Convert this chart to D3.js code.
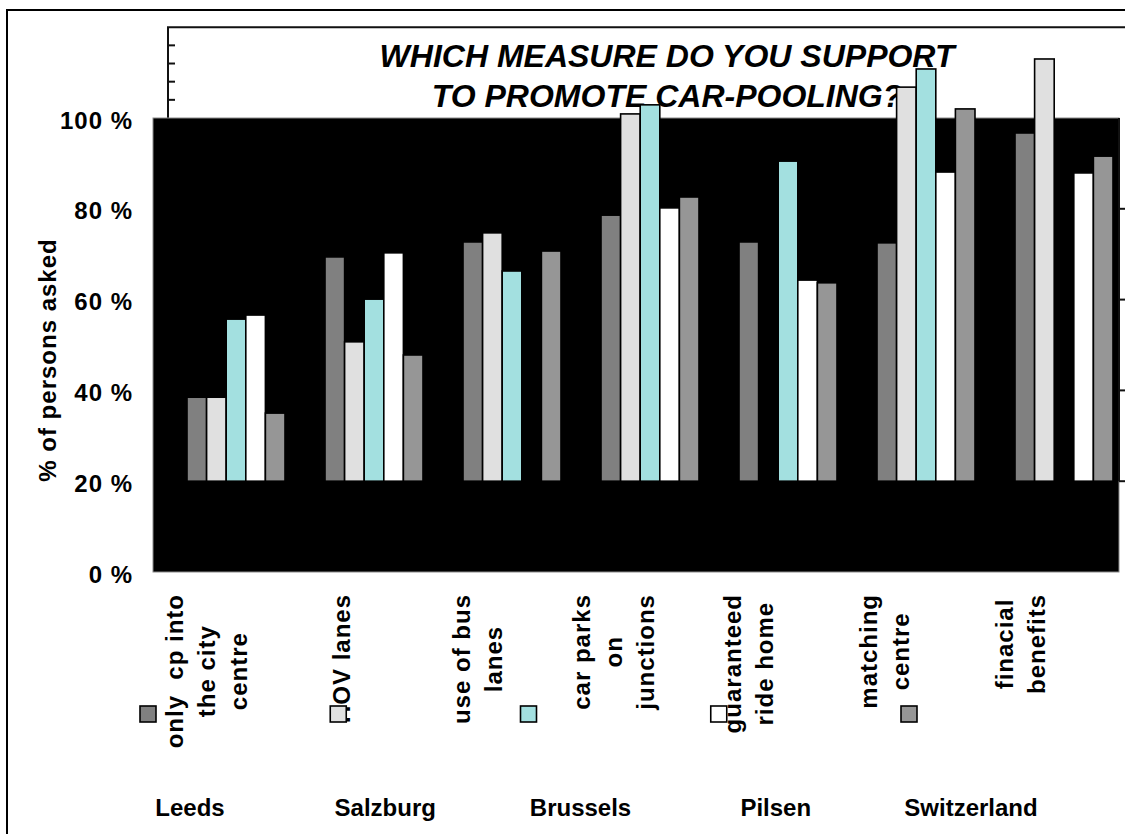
<!DOCTYPE html>
<html>
<head>
<meta charset="utf-8">
<script src="https://cdn.jsdelivr.net/npm/d3@7"></script>
<style>
  html, body { margin: 0; padding: 0; background: #fff; }
  svg { display: block; font-family: "Liberation Sans", Arial, Helvetica, sans-serif; }
</style>
</head>
<body>
<svg id="chart" width="1125" height="834"></svg>
<script>
// Measures asked about (each entry is the wrapped label, one string per line)
const categories = [
  ["only  cp into", "the city", "centre"],
  ["HOV lanes"],
  ["use of bus", "lanes"],
  ["car parks", "on", "junctions"],
  ["guaranteed", "ride home"],
  ["matching", "centre"],
  ["finacial", "benefits"]
];

// Survey sites (series)
const seriesNames = ["Leeds", "Salzburg", "Brussels", "Pilsen", "Switzerland"];

// Share of persons asked (%) per measure, one array per site; null = not asked
const leeds       = [38.5, 69.4, 72.7, 78.6, 72.7, 72.5, 96.7];
const salzburg    = [38.5, 50.7, 74.7, 100.9, null, 106.8, 113.0];
const brussels    = [55.7, 60.1, 66.3, 102.9, 90.5, 110.8, null];
const pilsen      = [56.6, 70.3, null, 80.2, 64.3, 88.1, 87.9];
const switzerland = [35.0, 47.8, 70.7, 82.6, 63.7, 102.0, 91.6];

// Axis ticks
const yTickValues = [0, 20, 40, 60, 80, 100];
const yTickLabels = ["0 %", "20 %", "40 %", "60 %", "80 %", "100 %"];
const upperMinorTicks = [104, 108, 112, 116];
const rightTicks = [20, 40, 60, 80];

const titleLines = ["WHICH MEASURE DO YOU SUPPORT", "TO PROMOTE CAR-POOLING?"];
const yTitle = "% of persons asked";

// ---- styling ----
const seriesColors = ["#808080", "#e0e0e0", "#a3e0e0", "#ffffff", "#969696"];
const seriesValues = [leeds, salzburg, brussels, pilsen, switzerland];
const labelFont = 24;

const svg = d3.select("#chart");

// ---- scales ----
const y = d3.scaleLinear().domain([0, 100]).range([572, 118]);
const x0 = d3.scaleBand()
  .domain(d3.range(categories.length))
  .range([167, 1133])
  .paddingInner(0.29)
  .paddingOuter(0.145);
const x1 = d3.scaleBand().domain(d3.range(seriesNames.length)).range([0, x0.bandwidth()]);
const xLabel = d3.scalePoint().domain(d3.range(categories.length)).range([206, 1020]);
const legendSwatchX = d3.scalePoint().domain(d3.range(seriesNames.length)).range([148, 909]);
const legendTextX = d3.scalePoint().domain(d3.range(seriesNames.length)).range([190, 971]);

// ---- outer chart border ----
svg.append("path")
  .attr("d", "M7,840V10H1130")
  .attr("fill", "none").attr("stroke", "#000").attr("stroke-width", 2);

// ---- frame above the plot area with its minor ticks ----
svg.append("path")
  .attr("d", `M168,${y(100)}V${y(120)}H1130`)
  .attr("fill", "none").attr("stroke", "#111").attr("stroke-width", 2);
svg.append("g").selectAll("line")
  .data(upperMinorTicks)
  .join("line")
  .attr("x1", 168).attr("x2", 175)
  .attr("y1", d => y(d)).attr("y2", d => y(d))
  .attr("stroke", "#111").attr("stroke-width", 2);

// ---- title ----
svg.append("g").selectAll("text")
  .data(titleLines)
  .join("text")
  .attr("x", 667)
  .attr("y", (d, i) => 67 + i * 40)
  .attr("text-anchor", "middle")
  .attr("font-size", 32)
  .attr("font-weight", "bold")
  .attr("font-style", "italic")
  .text(d => d);

// ---- plot area ----
svg.append("rect")
  .attr("x", 153).attr("y", y(100))
  .attr("width", 1119 - 153).attr("height", y(0) - y(100))
  .attr("fill", "#000").attr("stroke", "#8a8a8a").attr("stroke-width", 1);

// right-hand axis line and ticks
svg.append("line")
  .attr("x1", 1119).attr("x2", 1119)
  .attr("y1", y(100)).attr("y2", y(20))
  .attr("stroke", "#111").attr("stroke-width", 2);
svg.append("g").selectAll("line")
  .data(rightTicks)
  .join("line")
  .attr("x1", 1119).attr("x2", 1127)
  .attr("y1", d => y(d)).attr("y2", d => y(d))
  .attr("stroke", "#111").attr("stroke-width", 2);

// ---- bars ----
const barRows = [];
categories.forEach((c, ci) => {
  seriesValues.forEach((vals, si) => {
    if (vals[ci] != null) barRows.push({ ci, si, v: vals[ci] });
  });
});
svg.append("g").selectAll("rect")
  .data(barRows)
  .join("rect")
  .attr("x", d => x0(d.ci) + x1(d.si))
  .attr("y", d => y(d.v))
  .attr("width", x1.bandwidth())
  .attr("height", d => y(20) - y(d.v))
  .attr("fill", d => seriesColors[d.si])
  .attr("stroke", "#000")
  .attr("stroke-width", 1.6);

// ---- y tick labels ----
svg.append("g").selectAll("text")
  .data(yTickValues)
  .join("text")
  .attr("x", 133)
  .attr("y", d => y(d) + 2)
  .attr("text-anchor", "end")
  .attr("dominant-baseline", "central")
  .attr("font-size", labelFont)
  .attr("font-weight", "bold")
  .attr("letter-spacing", 1)
  .text((d, i) => yTickLabels[i]);

// y axis title
svg.append("text")
  .attr("transform", "translate(47,360) rotate(-90)")
  .attr("text-anchor", "middle")
  .attr("dominant-baseline", "central")
  .attr("font-size", labelFont)
  .attr("font-weight", "bold")
  .attr("letter-spacing", 1)
  .text(yTitle);

// ---- rotated category labels (block top-aligned under the axis) ----
const labelTop = 594;
const lineGap = 32;
const catG = svg.append("g");
categories.forEach((lines, ci) => {
  const g = catG.append("g");
  const texts = lines.map((line, li) => {
    const cx = xLabel(ci) + (li - (lines.length - 1) / 2) * lineGap;
    return g.append("text")
      .attr("text-anchor", "middle")
      .attr("dominant-baseline", "central")
      .attr("font-size", labelFont)
      .attr("font-weight", "bold")
      .attr("letter-spacing", 1)
      .style("white-space", "pre")
      .attr("data-x", cx)
      .text(line);
  });
  const maxLen = d3.max(texts, t => t.node().getComputedTextLength());
  const cy = labelTop + maxLen / 2;
  texts.forEach(t => {
    t.attr("transform", `translate(${t.attr("data-x")},${cy}) rotate(-90)`);
    t.attr("data-x", null);
  });
});

// ---- legend ----
const legend = svg.append("g");
legend.selectAll("rect")
  .data(seriesNames)
  .join("rect")
  .attr("x", (d, i) => legendSwatchX(i) - 8)
  .attr("y", 706)
  .attr("width", 16).attr("height", 16)
  .attr("fill", (d, i) => seriesColors[i])
  .attr("stroke", "#000").attr("stroke-width", 1.6);
legend.selectAll("text")
  .data(seriesNames)
  .join("text")
  .attr("x", (d, i) => legendTextX(i))
  .attr("y", 816)
  .attr("text-anchor", "middle")
  .attr("font-size", labelFont)
  .attr("font-weight", "bold")
  .text(d => d);
</script>
</body>
</html>
